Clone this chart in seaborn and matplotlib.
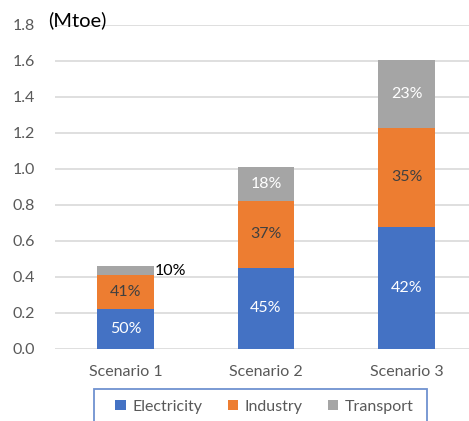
import numpy as np
import pandas as pd
import matplotlib
matplotlib.use("Agg")
import matplotlib.pyplot as plt
from matplotlib.patches import Patch, Rectangle
import seaborn as sns

# Energy demand by sector for each scenario (Mtoe)
scenarios = ["Scenario 1", "Scenario 2", "Scenario 3"]
electricity = [0.222, 0.450, 0.676]
industry = [0.186, 0.372, 0.552]
transport = [0.050, 0.187, 0.374]

# Sector shares shown on the bars
electricity_share = ["50%", "45%", "42%"]
industry_share = ["41%", "37%", "35%"]
transport_share = ["10%", "18%", "23%"]

sectors = ["Electricity", "Industry", "Transport"]
colors = {"Electricity": "#4472C4", "Industry": "#ED7D31", "Transport": "#A5A5A5"}

yticks = [0.0, 0.2, 0.4, 0.6, 0.8, 1.0, 1.2, 1.4, 1.6, 1.8]

sns.set_theme(style="white")
plt.rcParams["font.family"] = ["Lato", "DejaVu Sans"]

df = pd.DataFrame({"scenario": scenarios, "Electricity": electricity,
                   "Industry": industry, "Transport": transport})
df["cum_e"] = df["Electricity"]
df["cum_i"] = df["cum_e"] + df["Industry"]
df["cum_t"] = df["cum_i"] + df["Transport"]

W, H = 469, 421
fig = plt.figure(figsize=(W / 100, H / 100), dpi=100)
ax = fig.add_axes([55.25 / W, 72.3 / H, 421.5 / W, 324 / H])

# Stacked bars: draw cumulative totals from the top layer down
for col, sector in [("cum_t", "Transport"), ("cum_i", "Industry"), ("cum_e", "Electricity")]:
    sns.barplot(data=df, x="scenario", y=col, color=colors[sector], width=0.405,
                saturation=1, ax=ax, linewidth=0, errorbar=None)

ax.set_xlim(-0.5, 2.5)
ax.set_ylim(0, 1.8)
ax.set_yticks(yticks)
ax.set_yticklabels([f"{v:.1f}" for v in yticks])
ax.set_xlabel("")
ax.set_ylabel("")
ax.grid(axis="y", color="#D9D9D9", linewidth=1.2)
ax.set_axisbelow(True)
for s in ax.spines.values():
    s.set_visible(False)
ax.tick_params(axis="y", length=0, pad=14.5, labelsize=11.5, labelcolor="#595959")
ax.tick_params(axis="x", length=0, pad=11.5, labelsize=11.5, labelcolor="#595959")

# Segment labels
for i in range(len(scenarios)):
    e, ind, t = electricity[i], industry[i], transport[i]
    ax.text(i, e / 2, electricity_share[i], ha="center", va="center",
            color="white", fontsize=11.5)
    ax.text(i, e + ind / 2, industry_share[i], ha="center", va="center",
            color="#404040", fontsize=11.5)
    if i == 0:
        ax.text(i + 0.21, e + ind + t / 2, transport_share[i], ha="left",
                va="center", color="black", fontsize=11.5)
    else:
        ax.text(i, e + ind + t / 2, transport_share[i], ha="center",
                va="center", color="white", fontsize=11.5)

fig.text(48 / W, 1 - 20 / H, "(Mtoe)", ha="left", va="center",
         fontsize=14.5, color="black")

# Legend frame and entries
fig.add_artist(Rectangle((94 / W, -10 / H), 333 / W, (H - 389 + 10) / H,
                         transform=fig.transFigure, facecolor="none",
                         edgecolor="#7092D0", linewidth=1.3))
handles = [Patch(facecolor=colors[s], edgecolor="none", label=s) for s in sectors]
leg = fig.legend(handles=handles, loc="center",
                 bbox_to_anchor=(264.5 / W, 1 - 406.7 / H),
                 ncol=3, frameon=False, fontsize=11.5,
                 handlelength=0.65, handleheight=0.65,
                 handletextpad=0.4, columnspacing=1.6, borderpad=0,
                 borderaxespad=0)
for txt in leg.get_texts():
    txt.set_color("#595959")

fig.savefig("out.png", dpi=100)
